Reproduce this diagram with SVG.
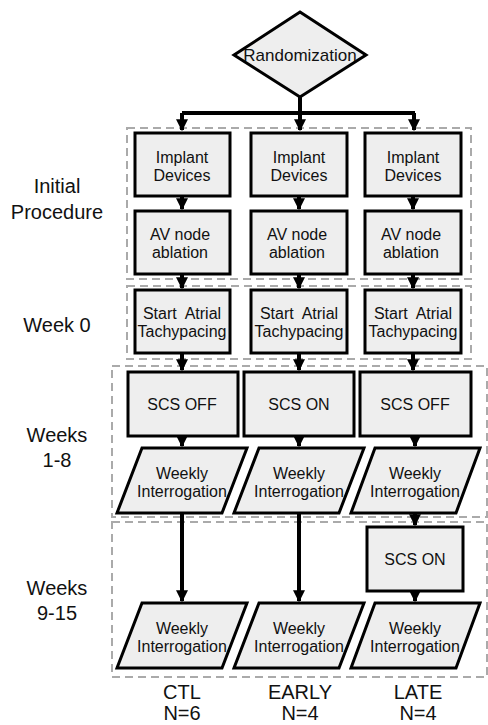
<svg xmlns="http://www.w3.org/2000/svg" width="488" height="725" viewBox="0 0 488 725">
<style>
.box{fill:#eeeeee;stroke:#000;stroke-width:3}
.grp{fill:none;stroke:#aaaaaa;stroke-width:2;stroke-dasharray:8,5}
.t{font-family:"Liberation Sans",Arial,sans-serif;font-size:16px;fill:#111;text-anchor:middle}
.lab{font-family:"Liberation Sans",Arial,sans-serif;font-size:20px;fill:#111;text-anchor:middle}
.c{stroke:#000;stroke-width:4;fill:none}
</style>
<defs>
<marker id="ah" viewBox="0 0 10 10" refX="9" refY="5" markerWidth="3" markerHeight="3" orient="auto" markerUnits="strokeWidth">
<path d="M0,0 L10,5 L0,10 z" fill="#000"/>
</marker>
</defs>
<rect width="488" height="725" fill="#fff"/>
<g id="groups">
<rect class="grp" x="127" y="128" width="344" height="151"/>
<rect class="grp" x="127" y="286" width="344" height="73"/>
<rect class="grp" x="112" y="366" width="375" height="151"/>
<rect class="grp" x="112" y="522" width="375" height="155"/>
</g>
<g id="labels">
<text class="lab" x="57" y="193">Initial</text>
<text class="lab" x="57" y="219">Procedure</text>
<text class="lab" x="57" y="332">Week 0</text>
<text class="lab" x="57" y="442">Weeks</text>
<text class="lab" x="57" y="467">1-8</text>
<text class="lab" x="57" y="595">Weeks</text>
<text class="lab" x="57" y="620">9-15</text>
<text class="lab" x="182" y="699">CTL</text>
<text class="lab" x="182" y="720">N=6</text>
<text class="lab" x="300" y="699">EARLY</text>
<text class="lab" x="300" y="720">N=4</text>
<text class="lab" x="418" y="699">LATE</text>
<text class="lab" x="418" y="720">N=4</text>
</g>
<g id="connectors">
<path class="c" d="M300,97 V113 M182,113 H415"/>
<path class="c" d="M182,113 V130" marker-end="url(#ah)"/>
<path class="c" d="M300,113 V130" marker-end="url(#ah)"/>
<path class="c" d="M414,113 V130" marker-end="url(#ah)"/>
<path class="c" d="M182,196 V209" marker-end="url(#ah)"/>
<path class="c" d="M299,196 V209" marker-end="url(#ah)"/>
<path class="c" d="M413,196 V209" marker-end="url(#ah)"/>
<path class="c" d="M182,274 V288" marker-end="url(#ah)"/>
<path class="c" d="M299,274 V288" marker-end="url(#ah)"/>
<path class="c" d="M413,274 V288" marker-end="url(#ah)"/>
<path class="c" d="M182,353 V370" marker-end="url(#ah)"/>
<path class="c" d="M299,353 V370" marker-end="url(#ah)"/>
<path class="c" d="M413,353 V370" marker-end="url(#ah)"/>
<path class="c" d="M182,436 V446" marker-end="url(#ah)"/>
<path class="c" d="M299,436 V446" marker-end="url(#ah)"/>
<path class="c" d="M415,436 V446" marker-end="url(#ah)"/>
<path class="c" d="M182,513 V601" marker-end="url(#ah)"/>
<path class="c" d="M299,513 V601" marker-end="url(#ah)"/>
<path class="c" d="M415,513 V525" marker-end="url(#ah)"/>
<path class="c" d="M415,591 V601" marker-end="url(#ah)"/>
</g>
<g id="randomization">
<polygon class="box" points="300,12 366,55 300,97 234,55"/>
<text class="t" x="300" y="61" style="font-size:17px">Randomization</text>
</g>
<g id="implant-ctl"><rect class="box" x="135" y="133" width="95" height="63"/><text class="t" x="182" y="163">Implant</text><text class="t" x="182" y="181">Devices</text></g>
<g id="implant-early"><rect class="box" x="251" y="133" width="96" height="63"/><text class="t" x="299" y="163">Implant</text><text class="t" x="299" y="181">Devices</text></g>
<g id="implant-late"><rect class="box" x="365" y="133" width="96" height="63"/><text class="t" x="413" y="163">Implant</text><text class="t" x="413" y="181">Devices</text></g>
<g id="avn-ctl"><rect class="box" x="135" y="211" width="95" height="63"/><text class="t" x="180" y="240">AV node</text><text class="t" x="180" y="258">ablation</text></g>
<g id="avn-early"><rect class="box" x="251" y="211" width="96" height="63"/><text class="t" x="297" y="240">AV node</text><text class="t" x="297" y="258">ablation</text></g>
<g id="avn-late"><rect class="box" x="365" y="211" width="96" height="63"/><text class="t" x="411" y="240">AV node</text><text class="t" x="411" y="258">ablation</text></g>
<g id="tach-ctl"><rect class="box" x="135" y="290" width="95" height="63"/><text class="t" x="182" y="319" xml:space="preserve">Start  Atrial</text><text class="t" x="182" y="337">Tachypacing</text></g>
<g id="tach-early"><rect class="box" x="251" y="290" width="96" height="63"/><text class="t" x="299" y="319" xml:space="preserve">Start  Atrial</text><text class="t" x="299" y="337">Tachypacing</text></g>
<g id="tach-late"><rect class="box" x="365" y="290" width="96" height="63"/><text class="t" x="413" y="319" xml:space="preserve">Start  Atrial</text><text class="t" x="413" y="337">Tachypacing</text></g>
<g id="scs-ctl"><rect class="box" x="128" y="372" width="110" height="64"/><text class="t" x="182" y="410">SCS OFF</text></g>
<g id="scs-early"><rect class="box" x="244" y="372" width="110" height="64"/><text class="t" x="299" y="410">SCS ON</text></g>
<g id="scs-late"><rect class="box" x="360" y="372" width="111" height="64"/><text class="t" x="415" y="410">SCS OFF</text></g>
<g id="wi1-ctl"><polygon class="box" points="142,448 247,448 222,513 117,513"/><text class="t" x="182" y="479">Weekly</text><text class="t" x="182" y="497">Interrogation</text></g>
<g id="wi1-early"><polygon class="box" points="259,448 364,448 339,513 234,513"/><text class="t" x="299" y="479">Weekly</text><text class="t" x="299" y="497">Interrogation</text></g>
<g id="wi1-late"><polygon class="box" points="375,448 480,448 456,513 351,513"/><text class="t" x="415" y="479">Weekly</text><text class="t" x="415" y="497">Interrogation</text></g>
<g id="scs2-late"><rect class="box" x="367" y="527" width="96" height="64"/><text class="t" x="415" y="565">SCS ON</text></g>
<g id="wi2-ctl"><polygon class="box" points="142,603 247,603 222,668 117,668"/><text class="t" x="182" y="634">Weekly</text><text class="t" x="182" y="652">Interrogation</text></g>
<g id="wi2-early"><polygon class="box" points="259,603 364,603 339,668 234,668"/><text class="t" x="299" y="634">Weekly</text><text class="t" x="299" y="652">Interrogation</text></g>
<g id="wi2-late"><polygon class="box" points="375,603 480,603 456,668 351,668"/><text class="t" x="415" y="634">Weekly</text><text class="t" x="415" y="652">Interrogation</text></g>
</svg>
